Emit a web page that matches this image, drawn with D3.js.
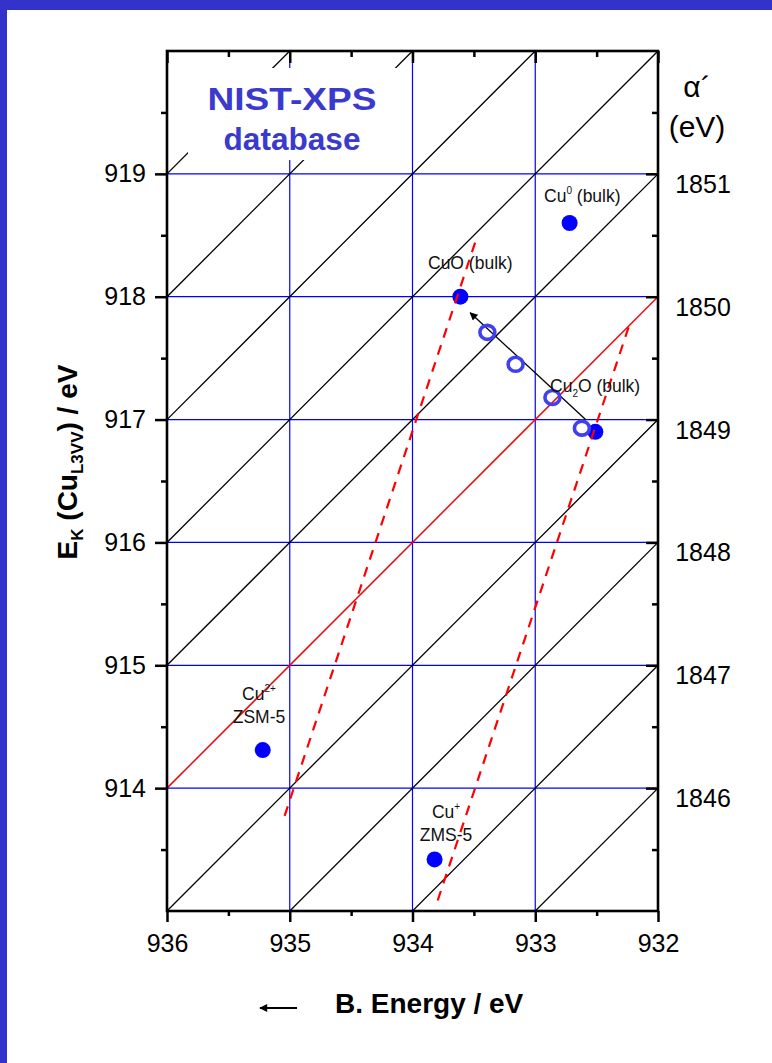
<!DOCTYPE html>
<html>
<head>
<meta charset="utf-8">
<script src="https://cdn.jsdelivr.net/npm/d3@7"></script>
<style>
  html, body { margin: 0; padding: 0; background: #fff; }
  svg { display: block; }
  text { font-family: "Liberation Sans", Arial, sans-serif; }
</style>
</head>
<body>
<script>
// ---------- data ----------
const xTicks = [936, 935, 934, 933, 932];
const yTicks = [914, 915, 916, 917, 918, 919];
const alphaTicks = [1846, 1847, 1848, 1849, 1850, 1851];
const alphaLines = [1845, 1846, 1847, 1848, 1849, 1851, 1852, 1853, 1854, 1855, 1856];
const alphaRed = 1850;
const vGrid = [935, 934, 933];
const hGrid = [914, 915, 916, 917, 918, 919];

const pointNames = ["Cu0", "CuO", "Cu2O", "Cu2+ZSM", "Cu+ZMS"];
const pointBE = [932.72, 933.61, 932.51, 935.22, 933.82];
const pointEK = [918.60, 918.00, 916.90, 914.31, 913.42];

const openBE = [933.39, 933.16, 932.86, 932.62];
const openEK = [917.71, 917.45, 917.18, 916.93];

const arrowBE = [932.59, 933.53];
const arrowEK = [917.00, 917.87];

const dashLeftBE = [933.49, 935.06];
const dashLeftEK = [918.44, 913.72];
const dashRightBE = [932.24, 933.80];
const dashRightEK = [917.75, 913.07];

// ---------- setup ----------
const W = 772, H = 1063;
const L = 167, R = 658, T = 51, B = 911;
const svg = d3.select("body").append("svg").attr("width", W).attr("height", H);

// blue slide frame
svg.append("rect").attr("x", 0).attr("y", 0).attr("width", W).attr("height", 10).attr("fill", "#3333cc");
svg.append("rect").attr("x", 0).attr("y", 0).attr("width", 7).attr("height", H).attr("fill", "#3333cc");

const x = d3.scaleLinear().domain([936, 932]).range([L, R]);
const y = d3.scaleLinear().domain([913, 920]).range([B, T]);

svg.append("defs").append("clipPath").attr("id", "plot")
  .append("rect").attr("x", L).attr("y", T).attr("width", R - L).attr("height", B - T);
svg.select("defs").append("marker").attr("id", "ah")
  .attr("viewBox", "0 0 10 10").attr("refX", 9).attr("refY", 5)
  .attr("markerWidth", 11).attr("markerHeight", 8).attr("markerUnits", "userSpaceOnUse")
  .attr("orient", "auto")
  .append("path").attr("d", "M0,0 L10,5 L0,10 Z").attr("fill", "#000");

const g = svg.append("g").attr("clip-path", "url(#plot)");

// blue grid
g.selectAll(".vg").data(vGrid).enter().append("line")
  .attr("x1", d => x(d)).attr("x2", d => x(d)).attr("y1", T).attr("y2", B)
  .attr("stroke", "#0000ff").attr("stroke-width", 1.2);
g.selectAll(".hg").data(hGrid).enter().append("line")
  .attr("x1", L).attr("x2", R).attr("y1", d => y(d)).attr("y2", d => y(d))
  .attr("stroke", "#0000ff").attr("stroke-width", 1.2);

// constant alpha' diagonals
g.selectAll(".dg").data(alphaLines).enter().append("line")
  .attr("x1", x(936)).attr("y1", d => y(d - 936))
  .attr("x2", x(932)).attr("y2", d => y(d - 932))
  .attr("stroke", "#000").attr("stroke-width", 1.3);
g.append("line")
  .attr("x1", x(936)).attr("y1", y(alphaRed - 936))
  .attr("x2", x(932)).attr("y2", y(alphaRed - 932))
  .attr("stroke", "#ff0000").attr("stroke-width", 1.5);

// arrow
g.append("line")
  .attr("x1", x(arrowBE[0])).attr("y1", y(arrowEK[0]))
  .attr("x2", x(arrowBE[1])).attr("y2", y(arrowEK[1]))
  .attr("stroke", "#000").attr("stroke-width", 1.3).attr("marker-end", "url(#ah)");

// filled points
g.selectAll(".pt").data(pointBE).enter().append("circle")
  .attr("cx", d => x(d)).attr("cy", (d, i) => y(pointEK[i])).attr("r", 8)
  .attr("fill", "#0000ff");

// open circles
g.selectAll(".op").data(openBE).enter().append("ellipse")
  .attr("cx", d => x(d)).attr("cy", (d, i) => y(openEK[i])).attr("rx", 7.5).attr("ry", 7)
  .attr("fill", "none").attr("stroke", "#4040f0").attr("stroke-width", 3.6);

// labels
function lab(tx, ty, parts, anchor) {
  const t = svg.append("text").attr("x", tx).attr("y", ty).attr("font-size", 17.5)
    .attr("fill", "#111").attr("text-anchor", anchor || "start");
  parts.forEach(p => {
    const s = t.append("tspan").text(p[0]);
    if (p[1] === "sup") s.attr("font-size", 10).attr("dy", -8);
    if (p[1] === "sub") s.attr("font-size", 10).attr("dy", 5);
    if (p[1] === "back") s.attr("dy", p[2]);
  });
  return t;
}
lab(544, 202, [["Cu"], ["0", "sup"], [" (bulk)", "back", 8]]);
lab(428, 269, [["CuO (bulk)"]]);
lab(550, 392, [["Cu"], ["2", "sub"], ["O (bulk)", "back", -5]]);
lab(259, 700, [["Cu"], ["2+", "sup"]], "middle");
lab(259, 723, [["ZSM-5"]], "middle");
lab(446, 818, [["Cu"], ["+", "sup"]], "middle");
lab(446, 841, [["ZMS-5"]], "middle");

// red dashed lines
const ln = d3.line();
g.append("path")
  .attr("d", ln(dashLeftBE.map((d, i) => [x(d), y(dashLeftEK[i])])))
  .attr("fill", "none").attr("stroke", "#ff0000").attr("stroke-width", 2.2)
  .attr("stroke-dasharray", "10,8");
g.append("path")
  .attr("d", ln(dashRightBE.map((d, i) => [x(d), y(dashRightEK[i])])))
  .attr("fill", "none").attr("stroke", "#ff0000").attr("stroke-width", 2.2)
  .attr("stroke-dasharray", "10,8");

// NIST box
svg.append("rect").attr("x", 188).attr("y", 68).attr("width", 218).attr("height", 92)
  .attr("rx", 6).attr("fill", "#fff");
svg.append("text").attr("x", 292).attr("y", 110).attr("text-anchor", "middle")
  .attr("font-family", "'Comic Sans MS', 'DejaVu Sans', sans-serif").attr("font-weight", "bold")
  .attr("font-size", 32).attr("fill", "#3a3acc")
  .attr("textLength", 169).attr("lengthAdjust", "spacingAndGlyphs").text("NIST-XPS");
svg.append("text").attr("x", 292).attr("y", 150).attr("text-anchor", "middle")
  .attr("font-family", "'Comic Sans MS', 'DejaVu Sans', sans-serif").attr("font-weight", "bold")
  .attr("font-size", 32).attr("fill", "#3a3acc")
  .attr("textLength", 137).attr("lengthAdjust", "spacingAndGlyphs").text("database");

// ---------- axes ----------
const minorX = d3.range(935.5, 932, -1);
const minorY = d3.range(913.5, 920, 1);

function styleAxis(sel) {
  sel.select(".domain").remove();
  sel.selectAll("line").attr("stroke", "#000").attr("stroke-width", 2.5);
  sel.selectAll("text").attr("font-size", 25).attr("fill", "#000")
    .attr("font-family", "'Liberation Sans', Arial, sans-serif");
}
// bottom
svg.append("g").attr("transform", `translate(0,${B})`)
  .call(d3.axisBottom(x).tickValues(xTicks).tickFormat(d3.format("d")).tickSize(11).tickPadding(12))
  .call(styleAxis);
svg.append("g").attr("transform", `translate(0,${B})`)
  .call(d3.axisBottom(x).tickValues(minorX).tickFormat("").tickSize(5)).call(styleAxis);
// top (inward)
svg.append("g").attr("transform", `translate(0,${T})`)
  .call(d3.axisBottom(x).tickValues(xTicks).tickFormat("").tickSize(12)).call(styleAxis);
svg.append("g").attr("transform", `translate(0,${T})`)
  .call(d3.axisBottom(x).tickValues(minorX).tickFormat("").tickSize(6)).call(styleAxis);
// left
svg.append("g").attr("transform", `translate(${L},0)`)
  .call(d3.axisLeft(y).tickValues(yTicks).tickFormat(d3.format("d")).tickSize(12).tickPadding(9))
  .call(styleAxis);
svg.append("g").attr("transform", `translate(${L},0)`)
  .call(d3.axisLeft(y).tickValues(minorY).tickFormat("").tickSize(6)).call(styleAxis);
// right (inward)
svg.append("g").attr("transform", `translate(${R},0)`)
  .call(d3.axisLeft(y).tickValues(yTicks).tickFormat("").tickSize(12)).call(styleAxis);
svg.append("g").attr("transform", `translate(${R},0)`)
  .call(d3.axisLeft(y).tickValues(minorY).tickFormat("").tickSize(6)).call(styleAxis);

// frame
svg.append("rect").attr("x", L).attr("y", T).attr("width", R - L).attr("height", B - T)
  .attr("fill", "none").attr("stroke", "#000").attr("stroke-width", 2.6);

// right alpha' labels
svg.selectAll(".al").data(alphaTicks).enter().append("text")
  .attr("x", 703).attr("y", d => y(d - 932) + 19).attr("text-anchor", "middle")
  .attr("font-size", 25).attr("fill", "#000").text(d => d);
svg.append("text").attr("x", 697).attr("y", 97).attr("text-anchor", "middle")
  .attr("font-size", 30).attr("fill", "#000").text("α´");
svg.append("text").attr("x", 697).attr("y", 137).attr("text-anchor", "middle")
  .attr("font-size", 30).attr("fill", "#000").text("(eV)");

// axis titles
const yt = svg.append("text").attr("transform", "translate(77,462) rotate(-90)")
  .attr("text-anchor", "middle").attr("font-size", 28).attr("font-weight", "bold").attr("fill", "#000");
yt.append("tspan").text("E");
yt.append("tspan").attr("font-size", 17).attr("dy", 6).text("K");
yt.append("tspan").attr("dy", -6).text(" (Cu");
yt.append("tspan").attr("font-size", 17).attr("dy", 6).text("L3VV");
yt.append("tspan").attr("dy", -6).text(") / eV");

svg.append("text").attr("x", 335).attr("y", 1013).attr("font-size", 28).attr("font-weight", "bold")
  .attr("fill", "#000").text("B. Energy / eV");
svg.append("line").attr("x1", 297).attr("y1", 1008).attr("x2", 260).attr("y2", 1008)
  .attr("stroke", "#000").attr("stroke-width", 2).attr("marker-end", "url(#ah)");
</script>
</body>
</html>
